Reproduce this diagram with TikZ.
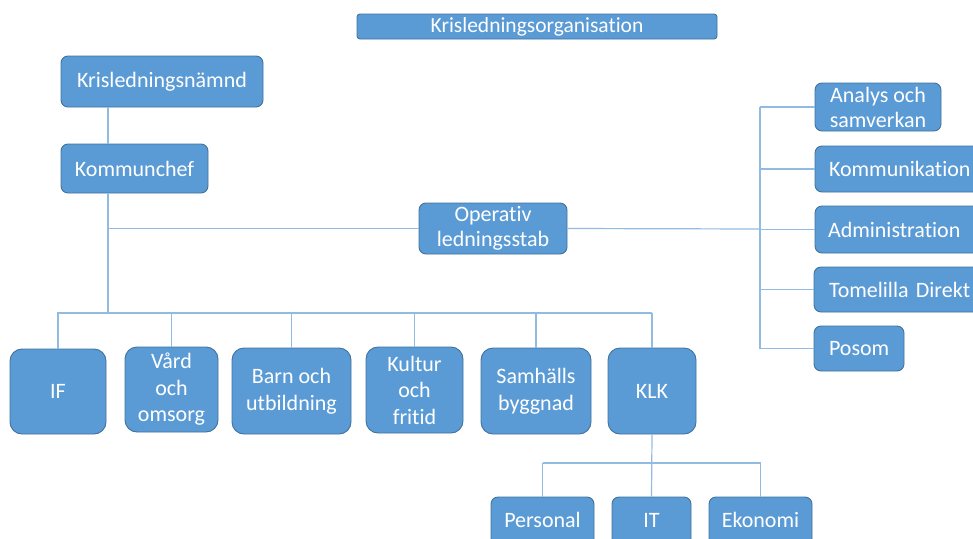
\documentclass[tikz,border=0pt]{standalone}
\usepackage{fontspec}
\setmainfont{Carlito}[Ligatures={NoCommon}]
\definecolor{boxfill}{HTML}{5B9BD5}
\definecolor{boxdraw}{HTML}{41719C}
\definecolor{linec}{HTML}{92BBE3}
\begin{document}
\begin{tikzpicture}[x=1pt,y=-1pt,
  box/.style={draw=boxdraw, fill=boxfill, line width=0.9pt, rounded corners=7pt,
    text=white, inner sep=0pt, align=center, font=\fontsize{22}{26.5}\selectfont},
  bigbox/.style={box, rounded corners=12pt},
  lbl/.style={text=white, inner sep=0pt, font=\fontsize{22}{26.5}\selectfont, anchor=base},
  conn/.style={draw=linec, line width=1.2pt}]
\useasboundingbox (0,0) rectangle (973,538);
\clip (0,0) rectangle (973,538);
% top
\node[box, rounded corners=3pt, minimum width=360pt, minimum height=25pt, font=\fontsize{21.5}{24}\selectfont] (title) at (537,26.5) {Krisledningsorganisation};
\node[box, minimum width=202pt, minimum height=51pt] (kn) at (162,81.5) {Krisledningsnämnd};
\node[box, minimum width=147pt, minimum height=49pt] (kc) at (134.5,168.5) {Kommunchef};
\node[box, minimum width=148pt, minimum height=51pt, font=\fontsize{22}{25}\selectfont] (ops) at (493,228.5) {Operativ\\ledningsstab};
% right
\node[box, minimum width=126pt, minimum height=48pt, font=\fontsize{22}{25}\selectfont] (an) at (878,107) {Analys och\\samverkan};
\node[box, minimum width=170pt, minimum height=46pt, text width=170pt, align=left] (ko) at (900,169) {\hspace*{14pt}Kommunikation};
\node[box, minimum width=170pt, minimum height=47pt, text width=170pt, align=left] (ad) at (900,229.5) {\hspace*{13pt}Administration};
\node[box, minimum width=170pt, minimum height=45pt, text width=170pt, align=left] (td) at (899,289.5) {\hspace*{15pt}Tomelilla Direkt};
\node[box, minimum width=90pt, minimum height=45pt, text width=90pt, align=left] (po) at (859,348.5) {\hspace*{15pt}Posom};
% bottom row
\node[bigbox, minimum width=96pt, minimum height=85pt] (if) at (58,391.5) {IF};
\node[bigbox, minimum width=93pt, minimum height=85pt] (vo) at (171.5,389.5) {Vård\\och\\omsorg};
\node[bigbox, minimum width=119pt, minimum height=86pt] (bu) at (291.5,391) {Barn och\\utbildning};
\node[bigbox, minimum width=97pt, minimum height=86pt] (kf) at (414.5,390) {Kultur\\och\\fritid};
\node[bigbox, minimum width=110pt, minimum height=86pt] (sb) at (536,391) {Samhälls\\byggnad};
\node[bigbox, minimum width=88pt, minimum height=86pt] (klk) at (652,391) {KLK};
% KLK children
\node[box, minimum width=103pt, minimum height=60pt] (pe) at (542.5,527) {};
\node[box, minimum width=79pt, minimum height=60pt] (it) at (651.5,527) {};
\node[box, minimum width=103pt, minimum height=60pt] (ek) at (760.5,527) {};
\node[lbl] (pel) at (542.5,527) {Personal};
\node[lbl] (itl) at (651.5,527) {IT};
\node[lbl] (ekl) at (760.5,527) {Ekonomi};
% connectors
\coordinate (lx) at (108,313);
\coordinate (rx) at (760,229);
\coordinate (bl) at (57,313);
\coordinate (br) at (652,313);
\coordinate (kb) at (652,463);
\draw[conn] (kn.south -| lx) -- (kc.north -| lx);
\draw[conn] (kc.south -| lx) -- (lx);
\draw[conn] (lx |- ops.west) -- (ops.west);
\draw[conn] (ops.east) -- (rx);
\draw[conn] (rx |- an.west) -- (rx |- po.west);
\foreach \n in {an,ko,ad,td,po} \draw[conn] (rx |- \n.west) -- (\n.west);
\draw[conn] (bl) -- (br);
\foreach \n in {if,vo,bu,kf,sb,klk} \draw[conn] (\n.north) -- (\n.north |- bl);
\draw[conn] (klk.south) -- (it.north);
\draw[conn] (pe.north |- kb) -- (ek.north |- kb);
\draw[conn] (pe.north) -- (pe.north |- kb);
\draw[conn] (ek.north) -- (ek.north |- kb);
\end{tikzpicture}
\end{document}
